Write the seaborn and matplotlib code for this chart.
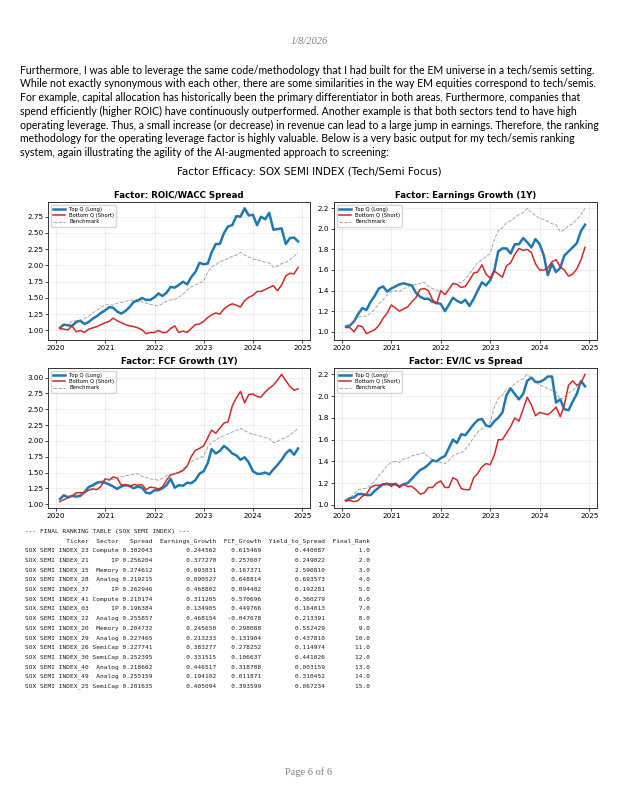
import numpy as np
import pandas as pd
import matplotlib
matplotlib.use("Agg")
import matplotlib.pyplot as plt
import matplotlib.dates as mdates
from matplotlib.ticker import MultipleLocator
import seaborn as sns

# Page text
date_text = "1/8/2026"
footer_text = "Page 6 of 6"
paragraph = [
    "Furthermore, I was able to leverage the same code/methodology that I had built for the EM universe in a tech/semis setting.",
    "While not exactly synonymous with each other, there are some similarities in the way EM equities correspond to tech/semis.",
    "For example, capital allocation has historically been the primary differentiator in both areas. Furthermore, companies that",
    "spend efficiently (higher ROIC) have continuously outperformed. Another example is that both sectors tend to have high",
    "operating leverage. Thus, a small increase (or decrease) in revenue can lead to a large jump in earnings. Therefore, the ranking",
    "methodology for the operating leverage factor is highly valuable. Below is a very basic output for my tech/semis ranking",
    "system, again illustrating the agility of the AI-augmented approach to screening:",
]
suptitle = "Factor Efficacy: SOX SEMI INDEX (Tech/Semi Focus)"

# Monthly series, Jan 2020 - Nov 2024
dates = pd.date_range("2020-01-31", periods=59, freq="ME")

benchmark = [1.05, 1.07, 1.10, 1.14, 1.15, 1.15, 1.18, 1.22, 1.27, 1.31, 1.36, 1.39,
             1.40, 1.39, 1.42, 1.43, 1.45, 1.46, 1.47, 1.48, 1.44, 1.42, 1.40, 1.39,
             1.38, 1.41, 1.45, 1.47, 1.48, 1.51, 1.56, 1.62, 1.67, 1.70, 1.73, 1.76,
             1.90, 1.98, 2.01, 2.06, 2.08, 2.11, 2.14, 2.16, 2.20, 2.16, 2.13, 2.10,
             2.09, 2.07, 2.05, 2.04, 1.97, 1.99, 2.03, 2.05, 2.09, 2.14, 2.20]

roic_top = [1.04, 1.09, 1.08, 1.07, 1.13, 1.15, 1.10, 1.13, 1.18, 1.22, 1.27, 1.31,
            1.36, 1.35, 1.29, 1.26, 1.30, 1.36, 1.44, 1.46, 1.50, 1.47, 1.47, 1.51,
            1.57, 1.53, 1.58, 1.67, 1.66, 1.70, 1.75, 1.71, 1.82, 1.90, 2.04, 2.02,
            2.03, 2.20, 2.33, 2.33, 2.50, 2.60, 2.62, 2.76, 2.75, 2.88, 2.77, 2.78,
            2.62, 2.75, 2.71, 2.81, 2.55, 2.56, 2.57, 2.33, 2.42, 2.43, 2.37]
roic_bottom = [1.03, 1.02, 1.01, 1.07, 0.98, 1.00, 0.97, 1.02, 1.04, 1.06, 1.09, 1.12,
               1.14, 1.19, 1.15, 1.12, 1.09, 1.07, 1.06, 1.04, 1.01, 0.95, 0.97, 0.97,
               1.00, 0.97, 0.97, 1.03, 1.07, 0.97, 0.99, 0.97, 1.03, 1.09, 1.10, 1.14,
               1.20, 1.24, 1.27, 1.25, 1.33, 1.38, 1.41, 1.39, 1.36, 1.46, 1.51, 1.54,
               1.60, 1.60, 1.63, 1.66, 1.69, 1.61, 1.70, 1.84, 1.88, 1.87, 1.97]

eg_top = [1.05, 1.06, 1.10, 1.17, 1.23, 1.21, 1.29, 1.35, 1.42, 1.44, 1.39, 1.42,
          1.44, 1.46, 1.47, 1.46, 1.45, 1.38, 1.34, 1.32, 1.32, 1.29, 1.28, 1.27,
          1.20, 1.26, 1.33, 1.30, 1.28, 1.31, 1.25, 1.32, 1.40, 1.48, 1.45, 1.50,
          1.60, 1.78, 1.81, 1.81, 1.76, 1.85, 1.85, 1.91, 1.87, 1.82, 1.90, 1.85,
          1.74, 1.55, 1.66, 1.58, 1.62, 1.74, 1.78, 1.82, 1.86, 1.98, 2.04]
eg_bottom = [1.04, 1.04, 1.00, 1.06, 1.05, 0.98, 1.00, 1.02, 1.06, 1.13, 1.18, 1.26,
             1.23, 1.20, 1.22, 1.24, 1.29, 1.33, 1.41, 1.42, 1.40, 1.31, 1.27, 1.40,
             1.36, 1.41, 1.47, 1.46, 1.43, 1.44, 1.50, 1.57, 1.58, 1.65, 1.56, 1.52,
             1.59, 1.56, 1.53, 1.64, 1.67, 1.75, 1.81, 1.79, 1.80, 1.77, 1.66, 1.60,
             1.60, 1.62, 1.68, 1.70, 1.63, 1.60, 1.54, 1.56, 1.61, 1.70, 1.82]

fcf_top = [1.08, 1.14, 1.11, 1.13, 1.12, 1.13, 1.19, 1.27, 1.30, 1.34, 1.35, 1.34,
           1.31, 1.28, 1.24, 1.28, 1.30, 1.29, 1.25, 1.28, 1.26, 1.18, 1.17, 1.22,
           1.22, 1.25, 1.30, 1.40, 1.26, 1.30, 1.29, 1.34, 1.33, 1.38, 1.48, 1.52,
           1.65, 1.87, 1.80, 1.84, 1.92, 1.87, 1.80, 1.77, 1.70, 1.74, 1.66, 1.52,
           1.48, 1.48, 1.50, 1.47, 1.55, 1.62, 1.70, 1.80, 1.86, 1.78, 1.88]
fcf_bottom = [1.04, 1.07, 1.10, 1.13, 1.18, 1.18, 1.18, 1.22, 1.24, 1.23, 1.28, 1.40,
              1.38, 1.43, 1.41, 1.30, 1.31, 1.28, 1.31, 1.30, 1.31, 1.23, 1.27, 1.26,
              1.24, 1.27, 1.38, 1.46, 1.48, 1.50, 1.53, 1.60, 1.75, 1.85, 1.88, 1.92,
              2.05, 2.17, 2.12, 2.20, 2.28, 2.30, 2.55, 2.68, 2.78, 2.60, 2.73, 2.74,
              2.70, 2.69, 2.77, 2.83, 2.88, 2.96, 3.05, 2.95, 2.86, 2.80, 2.82]

evic_top = [1.04, 1.06, 1.07, 1.10, 1.10, 1.09, 1.09, 1.13, 1.16, 1.19, 1.19, 1.19,
            1.19, 1.17, 1.19, 1.20, 1.24, 1.28, 1.32, 1.34, 1.37, 1.41, 1.40, 1.43,
            1.45, 1.52, 1.60, 1.57, 1.65, 1.64, 1.69, 1.74, 1.78, 1.79, 1.73, 1.72,
            1.77, 1.80, 1.85, 2.01, 2.07, 2.02, 1.97, 2.02, 2.14, 2.17, 2.13, 2.13,
            2.15, 2.18, 2.18, 1.94, 1.97, 1.88, 1.87, 1.95, 2.02, 2.14, 2.09]
evic_bottom = [1.04, 1.04, 1.03, 1.04, 1.08, 1.10, 1.16, 1.18, 1.18, 1.19, 1.20, 1.17,
               1.20, 1.16, 1.19, 1.17, 1.17, 1.14, 1.10, 1.11, 1.16, 1.16, 1.20, 1.22,
               1.16, 1.16, 1.25, 1.23, 1.15, 1.14, 1.14, 1.25, 1.29, 1.35, 1.38, 1.37,
               1.46, 1.60, 1.60, 1.66, 1.72, 1.80, 1.77, 1.88, 1.99, 1.92, 1.82, 1.85,
               1.84, 1.83, 1.86, 1.90, 1.81, 1.92, 2.10, 2.14, 2.10, 2.12, 2.20]

factor_titles = ["Factor: ROIC/WACC Spread", "Factor: Earnings Growth (1Y)",
                 "Factor: FCF Growth (1Y)", "Factor: EV/IC vs Spread"]
tops = [roic_top, eg_top, fcf_top, evic_top]
bottoms = [roic_bottom, eg_bottom, fcf_bottom, evic_bottom]
y_steps = [0.25, 0.2, 0.25, 0.2]

# Ranking table
tickers = ["SOX SEMI INDEX_23", "SOX SEMI INDEX_21", "SOX SEMI INDEX_15", "SOX SEMI INDEX_28",
           "SOX SEMI INDEX_37", "SOX SEMI INDEX_41", "SOX SEMI INDEX_03", "SOX SEMI INDEX_22",
           "SOX SEMI INDEX_20", "SOX SEMI INDEX_29", "SOX SEMI INDEX_26", "SOX SEMI INDEX_30",
           "SOX SEMI INDEX_40", "SOX SEMI INDEX_49", "SOX SEMI INDEX_25"]
sectors = ["Compute", "IP", "Memory", "Analog", "IP", "Compute", "IP", "Analog",
           "Memory", "Analog", "SemiCap", "SemiCap", "Analog", "Analog", "SemiCap"]
spread = [0.302043, 0.256204, 0.274612, 0.219215, 0.262946, 0.210174, 0.196384, 0.255857,
          0.204732, 0.227465, 0.227741, 0.252395, 0.218602, 0.255159, 0.201635]
earnings_growth = [0.244562, 0.377270, 0.093831, 0.090527, 0.468802, 0.311205, 0.134905, 0.468154,
                   0.245650, 0.213233, 0.383277, 0.331515, 0.446517, 0.194102, 0.405094]
fcf_growth = [0.615469, 0.257607, 0.167371, 0.648814, 0.094402, 0.570696, 0.449766, -0.047678,
              0.298088, 0.131904, 0.278252, 0.106637, 0.318788, 0.011871, 0.393599]
yield_to_spread = [0.440087, 0.249022, 2.590810, 0.693573, 0.192281, 0.360279, 0.164013, 0.213391,
                   0.552429, 0.437810, 0.114974, 0.441026, 0.003159, 0.310452, 0.067234]
final_rank = [1.0, 2.0, 3.0, 4.0, 5.0, 6.0, 7.0, 8.0, 9.0, 10.0, 11.0, 12.0, 13.0, 14.0, 15.0]

W, H = 618, 800


def fx(px):
    return px / W


def fy(px):
    return 1 - px / H


def fit_size(text, family, size, target_px):
    # font size that makes `text` span target_px pixels
    probe = fig.text(0, 0, text, fontsize=size, family=family)
    fig.canvas.draw()
    w = probe.get_window_extent().width
    probe.remove()
    return size * target_px / w


fig = plt.figure(figsize=(W / 100, H / 100), dpi=100)
fig.patch.set_facecolor("white")

# Header / paragraph
fig.text(0.5, fy(42), date_text, ha="center", va="center", fontsize=7.5,
         family="Liberation Serif", style="italic", color="#7f7f7f")

fs = fit_size(paragraph[4], "Lato", 7, 577)
for k, line in enumerate(paragraph):
    fig.text(fx(20), fy(69 + 13.8 * k), line, ha="left", va="center_baseline",
             fontsize=fs, family="Lato", color="black")

fig.text(0.5, fy(172), suptitle, ha="center", va="center", fontsize=7.5, family="DejaVu Sans")

# Factor panels
boxes = [(48, 310, 202, 340), (334, 597, 202, 340), (48, 310, 368, 508), (334, 597, 368, 508)]
for i, (l, r, t, b) in enumerate(boxes):
    ax = fig.add_axes([fx(l), fy(b), fx(r - l), (b - t) / H])
    sns.lineplot(x=dates, y=tops[i], ax=ax, color="#1f77b4", lw=1.8, label="Top Q (Long)")
    sns.lineplot(x=dates, y=bottoms[i], ax=ax, color="#d62728", lw=1.1, label="Bottom Q (Short)")
    sns.lineplot(x=dates, y=benchmark, ax=ax, color="gray", lw=0.7, ls="--", alpha=0.7,
                 label="Benchmark")
    ax.set_title(factor_titles[i], fontsize=6.2, fontweight="bold", pad=3)
    ax.xaxis.set_major_locator(mdates.YearLocator())
    ax.xaxis.set_major_formatter(mdates.DateFormatter("%Y"))
    ax.yaxis.set_major_locator(MultipleLocator(y_steps[i]))
    ax.tick_params(labelsize=5.2, length=2, width=0.5, pad=1.5)
    ax.grid(True, alpha=0.3, lw=0.5)
    ax.set_xlabel("")
    ax.set_ylabel("")
    for s in ax.spines.values():
        s.set_linewidth(0.7)
        s.set_color("#333333")
    ax.legend(loc="upper left", fontsize=3.8, handlelength=2.3, labelspacing=0.25,
              borderpad=0.4, framealpha=0.8, edgecolor="#cccccc", fancybox=True)

# Ranking table
table = pd.DataFrame({
    "Ticker": tickers,
    "Sector": sectors,
    "Spread": spread,
    "Earnings_Growth": earnings_growth,
    "FCF_Growth": fcf_growth,
    "Yield_to_Spread": yield_to_spread,
    "Final_Rank": final_rank,
})
table_lines = ["--- FINAL RANKING TABLE (SOX SEMI INDEX) ---"] + table.to_string(index=False).split("\n")
tfs = fit_size(table_lines[2], "DejaVu Sans Mono", 4.6, 346)
for k, line in enumerate(table_lines):
    fig.text(fx(25), fy(531 + 9.7 * k), line, ha="left", va="center", fontsize=tfs,
             family="DejaVu Sans Mono", color="#1a1a1a")

fig.text(0.5, fy(772), footer_text, ha="center", va="center", fontsize=7.5,
         family="Liberation Serif", color="#7f7f7f")

fig.savefig("out.png", dpi=100, facecolor="white")
